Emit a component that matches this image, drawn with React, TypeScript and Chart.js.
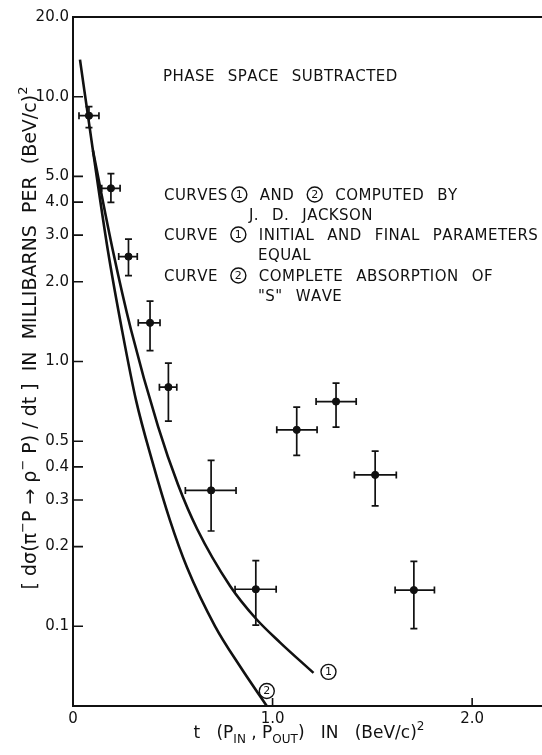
import React, { useEffect, useRef } from "react";
import { Chart, registerables } from "chart.js";

Chart.register(...registerables);

// Measured points (t in (BeV/c)^2, dσ/dt in mb per (BeV/c)^2)
const tValues = [0.08, 0.19, 0.278, 0.386, 0.478, 0.692, 0.916, 1.121, 1.318, 1.514, 1.708];
const sigmaValues = [8.48, 4.51, 2.49, 1.4, 0.8, 0.326, 0.138, 0.552, 0.706, 0.373, 0.137];
const tLow = [0.03, 0.144, 0.229, 0.327, 0.433, 0.563, 0.812, 1.021, 1.218, 1.41, 1.614];
const tHigh = [0.13, 0.236, 0.322, 0.436, 0.52, 0.817, 1.018, 1.223, 1.419, 1.62, 1.811];
const sigmaLow = [7.64, 3.99, 2.11, 1.1, 0.595, 0.229, 0.101, 0.442, 0.565, 0.285, 0.098];
const sigmaHigh = [9.17, 5.12, 2.9, 1.69, 0.986, 0.423, 0.177, 0.672, 0.828, 0.459, 0.176];

// Curve 1: initial and final parameters equal
const curve1T = [0.1, 0.2, 0.29, 0.426, 0.526, 0.622, 0.787, 0.916, 1.038, 1.205];
const curve1Sigma = [6.26, 2.62, 1.324, 0.569, 0.343, 0.233, 0.142, 0.107, 0.0868, 0.0667];

// Curve 2: complete absorption of "S" wave
const curve2T = [0.035, 0.1, 0.175, 0.246, 0.316, 0.396, 0.486, 0.571, 0.712, 0.84, 0.971];
const curve2Sigma = [13.8, 6.26, 2.62, 1.31, 0.713, 0.423, 0.251, 0.167, 0.1, 0.07, 0.05];

const yTickValues = [20, 10, 5, 4, 3, 2, 1, 0.5, 0.4, 0.3, 0.2, 0.1];
const yTickLabels = ["20.0", "10.0", "5.0", "4.0", "3.0", "2.0", "1.0", "0.5", "0.4", "0.3", "0.2", "0.1"];
const xTickValues = [0, 1, 2];
const xTickLabels = ["0", "1.0", "2.0"];
const xTickMarks = [1, 2];

const annotationLines = [
  "PHASE SPACE SUBTRACTED",
  "CURVES~(1) AND (2) COMPUTED BY",
  "J. D. JACKSON",
  "CURVE (1) INITIAL AND FINAL PARAMETERS",
  "EQUAL",
  "CURVE (2) COMPLETE ABSORPTION OF",
  "\"S\" WAVE",
];
const annotationX = [163, 164, 249, 164, 258, 164, 258];
const annotationY = [81, 200, 220, 240, 260, 281, 301];

const FONT = "'DejaVu Sans', sans-serif";

type Seg = { t: string; k?: "sup" | "sub" };

function drawCircled(ctx: CanvasRenderingContext2D, digit: string, cx: number, cy: number, r: number) {
  ctx.save();
  ctx.beginPath();
  ctx.arc(cx, cy, r, 0, Math.PI * 2);
  ctx.lineWidth = 1.4;
  ctx.strokeStyle = "#111";
  ctx.stroke();
  ctx.font = `${Math.round(r * 1.5)}px ${FONT}`;
  ctx.textAlign = "center";
  ctx.textBaseline = "middle";
  ctx.fillStyle = "#111";
  ctx.fillText(digit, cx, cy + 0.5);
  ctx.restore();
}

// words separated by " " get a wide gap, "~" a narrow one; "(n)" is a circled digit
function drawTokenLine(ctx: CanvasRenderingContext2D, text: string, x: number, y: number) {
  const wordGap = 13;
  const narrowGap = 4;
  const ls = 0.45;
  ctx.font = `15px ${FONT}`;
  ctx.textAlign = "left";
  ctx.textBaseline = "alphabetic";
  let cx = x;
  const words = text.split(" ");
  words.forEach((w, wi) => {
    const sub = w.split("~");
    sub.forEach((p, pi) => {
      const m = p.match(/^\((\d)\)$/);
      if (m) {
        const r = 7.5;
        drawCircled(ctx, m[1], cx + r, y - 5.5, r);
        cx += 2 * r;
      } else {
        ctx.font = `15px ${FONT}`;
        for (const ch of p) {
          ctx.fillText(ch, cx, y);
          cx += ctx.measureText(ch).width + ls;
        }
      }
      if (pi < sub.length - 1) cx += narrowGap;
    });
    if (wi < words.length - 1) cx += wordGap;
  });
}

function richWidth(ctx: CanvasRenderingContext2D, segs: Seg[], size: number) {
  let w = 0;
  for (const s of segs) {
    ctx.font = `${s.k ? Math.round(size * 0.68) : size}px ${FONT}`;
    w += ctx.measureText(s.t).width;
  }
  return w;
}

function drawRich(ctx: CanvasRenderingContext2D, segs: Seg[], size: number, x: number, y: number) {
  let cx = x;
  ctx.textAlign = "left";
  ctx.textBaseline = "alphabetic";
  for (const s of segs) {
    const fs = s.k ? Math.round(size * 0.68) : size;
    ctx.font = `${fs}px ${FONT}`;
    const dy = s.k === "sup" ? -size * 0.45 : s.k === "sub" ? size * 0.3 : 0;
    ctx.fillText(s.t, cx, y + dy);
    cx += ctx.measureText(s.t).width;
  }
}

const xTitle: Seg[] = [
  { t: "t   (P" },
  { t: "IN", k: "sub" },
  { t: " , P" },
  { t: "OUT", k: "sub" },
  { t: ")   IN   (BeV/c)" },
  { t: "2", k: "sup" },
];

const yTitle: Seg[] = [
  { t: "[ dσ(π" },
  { t: "−", k: "sup" },
  { t: "P → ρ" },
  { t: "−", k: "sup" },
  { t: " P) / dt ]  IN  MILLIBARNS  PER  (BeV/c)" },
  { t: "2", k: "sup" },
];

const decorPlugin = {
  id: "decor",
  beforeDatasetsDraw(chart: any) {
    const ctx: CanvasRenderingContext2D = chart.ctx;
    const xs = chart.scales.x;
    const ys = chart.scales.y;
    ctx.save();
    ctx.strokeStyle = "#111";
    ctx.lineWidth = 1.7;
    const cap = 3.5;
    for (let i = 0; i < tValues.length; i++) {
      const px = xs.getPixelForValue(tValues[i]);
      const py = ys.getPixelForValue(sigmaValues[i]);
      const xl = xs.getPixelForValue(tLow[i]);
      const xh = xs.getPixelForValue(tHigh[i]);
      const yl = ys.getPixelForValue(sigmaLow[i]);
      const yh = ys.getPixelForValue(sigmaHigh[i]);
      ctx.beginPath();
      ctx.moveTo(xl, py);
      ctx.lineTo(xh, py);
      ctx.moveTo(xl, py - cap);
      ctx.lineTo(xl, py + cap);
      ctx.moveTo(xh, py - cap);
      ctx.lineTo(xh, py + cap);
      ctx.moveTo(px, yl);
      ctx.lineTo(px, yh);
      ctx.moveTo(px - cap, yl);
      ctx.lineTo(px + cap, yl);
      ctx.moveTo(px - cap, yh);
      ctx.lineTo(px + cap, yh);
      ctx.stroke();
    }
    ctx.restore();
  },
  afterDraw(chart: any) {
    const ctx: CanvasRenderingContext2D = chart.ctx;
    const xs = chart.scales.x;
    const ys = chart.scales.y;
    const { left, right, top, bottom } = chart.chartArea;
    ctx.save();
    ctx.strokeStyle = "#111";
    ctx.fillStyle = "#111";
    // top frame line
    ctx.lineWidth = 2;
    ctx.beginPath();
    ctx.moveTo(left - 1, top);
    ctx.lineTo(right, top);
    ctx.stroke();
    // inward tick marks
    ctx.lineWidth = 1.6;
    ctx.beginPath();
    for (const v of yTickValues) {
      const py = ys.getPixelForValue(v);
      ctx.moveTo(left, py);
      ctx.lineTo(left + 10, py);
    }
    for (const v of xTickMarks) {
      const px = xs.getPixelForValue(v);
      ctx.moveTo(px, bottom);
      ctx.lineTo(px, bottom - 8);
    }
    ctx.stroke();

    // annotations
    for (let i = 0; i < annotationLines.length; i++) {
      drawTokenLine(ctx, annotationLines[i], annotationX[i], annotationY[i]);
    }

    // curve labels
    const c1x = xs.getPixelForValue(curve1T[curve1T.length - 1]);
    const c1y = ys.getPixelForValue(curve1Sigma[curve1Sigma.length - 1]);
    drawCircled(ctx, "1", c1x + 15, c1y - 1, 7.5);
    const c2x = xs.getPixelForValue(curve2T[curve2T.length - 1]);
    const c2y = ys.getPixelForValue(curve2Sigma[curve2Sigma.length - 1]);
    drawCircled(ctx, "2", c2x, c2y - 15, 7.5);

    // x title
    const xsz = 17;
    const xw = richWidth(ctx, xTitle, xsz);
    drawRich(ctx, xTitle, xsz, 309 - xw / 2, 738);

    // y title (rotated)
    const ysz = 19;
    const yw = richWidth(ctx, yTitle, ysz);
    ctx.save();
    ctx.translate(36, 338);
    ctx.rotate(-Math.PI / 2);
    drawRich(ctx, yTitle, ysz, -yw / 2, 0);
    ctx.restore();

    ctx.restore();
  },
};

export default function App() {
  const canvasRef = useRef<HTMLCanvasElement | null>(null);

  useEffect(() => {
    if (!canvasRef.current) return;
    Chart.defaults.font.family = FONT;
    Chart.defaults.color = "#111";
    const chart = new Chart(canvasRef.current, {
      type: "scatter",
      data: {
        datasets: [
          {
            label: "Measured",
            data: tValues.map((t, i) => ({ x: t, y: sigmaValues[i] })),
            backgroundColor: "#111",
            borderColor: "#111",
            pointRadius: 3.6,
            pointHoverRadius: 3.6,
            showLine: false,
          },
          {
            label: "Curve 1",
            data: curve1T.map((t, i) => ({ x: t, y: curve1Sigma[i] })),
            borderColor: "#111",
            borderWidth: 2.6,
            pointRadius: 0,
            showLine: true,
            cubicInterpolationMode: "monotone",
          },
          {
            label: "Curve 2",
            data: curve2T.map((t, i) => ({ x: t, y: curve2Sigma[i] })),
            borderColor: "#111",
            borderWidth: 2.6,
            pointRadius: 0,
            showLine: true,
            cubicInterpolationMode: "monotone",
          },
        ],
      },
      options: {
        animation: false,
        responsive: false,
        devicePixelRatio: 1,
        events: [],
        layout: { autoPadding: false, padding: { top: 17, right: 0, left: 0, bottom: 0 } },
        plugins: {
          legend: { display: false },
          tooltip: { enabled: false },
          title: { display: false },
        },
        scales: {
          x: {
            type: "linear",
            min: 0,
            max: 2.35,
            grid: { display: false, drawTicks: false },
            border: { display: true, color: "#111", width: 2 },
            afterBuildTicks: (scale: any) => {
              scale.ticks = xTickValues.map((v) => ({ value: v }));
            },
            afterFit: (scale: any) => {
              scale.height = 49;
            },
            ticks: {
              autoSkip: false,
              maxRotation: 0,
              padding: 4,
              color: "#111",
              font: { size: 15, family: FONT },
              callback: (v: any) => xTickLabels[xTickValues.indexOf(Number(v))] ?? "",
            },
          },
          y: {
            type: "logarithmic",
            min: 0.05,
            max: 20,
            grid: { display: false, drawTicks: false },
            border: { display: true, color: "#111", width: 2 },
            afterBuildTicks: (scale: any) => {
              scale.ticks = yTickValues.map((v) => ({ value: v }));
            },
            afterFit: (scale: any) => {
              scale.width = 73;
            },
            ticks: {
              autoSkip: false,
              padding: 4,
              color: "#111",
              font: { size: 15, family: FONT },
              callback: (v: any) => {
                const i = yTickValues.findIndex((t) => Math.abs(t - Number(v)) < 1e-9);
                return i >= 0 ? yTickLabels[i] : "";
              },
            },
          },
        },
      },
      plugins: [decorPlugin],
    } as any);
    return () => chart.destroy();
  }, []);

  return (
    <div style={{ position: "absolute", left: 0, top: 0, width: 542, height: 755, background: "#fff" }}>
      <canvas ref={canvasRef} width={542} height={755} style={{ display: "block", width: 542, height: 755 }} />
    </div>
  );
}
